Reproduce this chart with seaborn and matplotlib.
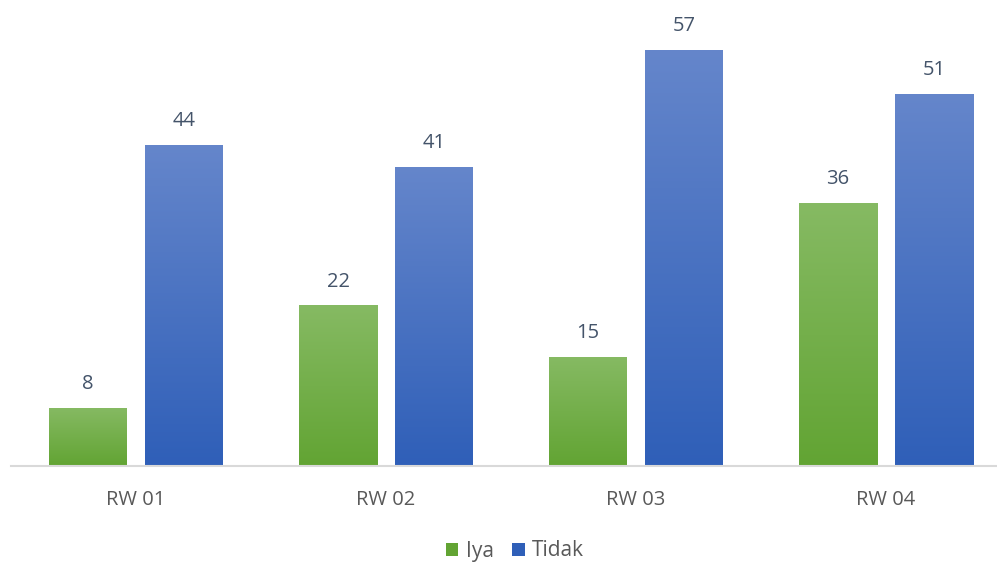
import numpy as np
import pandas as pd
import matplotlib
matplotlib.use("Agg")
import matplotlib.pyplot as plt
import seaborn as sns
from matplotlib.colors import LinearSegmentedColormap
from matplotlib.patches import Patch

categories = ["RW 01", "RW 02", "RW 03", "RW 04"]
iya = [8, 22, 15, 36]
tidak = [44, 41, 57, 51]
series = ["Iya", "Tidak"]

df = pd.DataFrame({
    "RW": categories * 2,
    "Jawaban": ["Iya"] * 4 + ["Tidak"] * 4,
    "Jumlah": iya + tidak,
})

sns.set_theme(style="white")
plt.rcParams["font.family"] = ["Open Sans", "DejaVu Sans"]

palette = {"Iya": "#70AD47", "Tidak": "#4472C4"}
grad = {
    "Iya": ("#86BA63", "#62A433"),
    "Tidak": ("#6586CB", "#2F5FB8"),
}

W, H = 997, 563
fig = plt.figure(figsize=(W / 100, H / 100), dpi=100)
ax_left, ax_bottom_px, ax_top_px = 11, 466, 0
ax = fig.add_axes([ax_left / W, (H - ax_bottom_px) / H, (W - ax_left) / W, (ax_bottom_px - ax_top_px) / H])

sns.barplot(data=df, x="RW", y="Jumlah", hue="Jawaban", palette=palette,
            width=0.768, gap=0.1875, ax=ax, legend=False, saturation=1)

ymax = 466 / 7.3

for container, name in zip(ax.containers, series):
    top, bot = grad[name]
    cmap = LinearSegmentedColormap.from_list(name, [bot, top])
    for bar in container:
        x0, y0 = bar.get_x(), bar.get_y()
        w, h = bar.get_width(), bar.get_height()
        bar.set_facecolor("none")
        bar.set_edgecolor("none")
        im = ax.imshow(np.linspace(0, 1, 256).reshape(-1, 1), cmap=cmap, origin="lower",
                       extent=[x0, x0 + w, y0, y0 + h], aspect="auto", zorder=bar.get_zorder())
        im.set_clip_path(bar)
    ax.bar_label(container, padding=10, fontsize=14.5, color="#44546A")

ax.set_xlim(-0.5, -0.5 + (W - ax_left) / 250)
ax.set_ylim(0, ymax)

for s in ["top", "right", "left"]:
    ax.spines[s].set_visible(False)
ax.spines["bottom"].set_color("#D9D9D9")
ax.spines["bottom"].set_linewidth(1.5)
ax.set_yticks([])
ax.set_xlabel("")
ax.set_ylabel("")
ax.tick_params(axis="x", length=0, pad=17, labelsize=14.5, labelcolor="#595959")

handles = [Patch(facecolor=grad[s][1], edgecolor="none") for s in series]
fig.legend(handles, series, loc="center", bbox_to_anchor=(515 / W, 1 - 551 / H), ncol=2,
           frameon=False, fontsize=15, handlelength=0.6, handleheight=0.6,
           handletextpad=0.35, columnspacing=0.9, labelcolor="#595959")

fig.savefig("out.png", dpi=100)
